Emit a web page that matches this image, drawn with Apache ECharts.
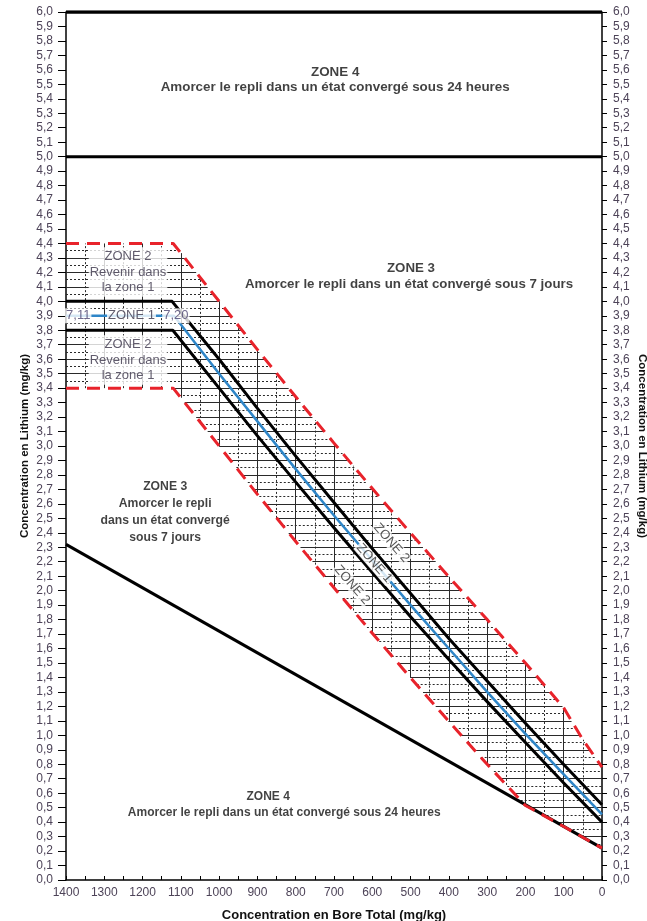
<!DOCTYPE html>
<html><head><meta charset="utf-8">
<script src="https://cdn.jsdelivr.net/npm/echarts@6/dist/echarts.min.js"></script>
<style>html,body{margin:0;padding:0;background:#fff;overflow:hidden}#c{width:647px;height:921px}</style>
</head><body><div id="c"></div>
<script>
// ---- data (Bore mg/kg on x, Lithium mg/kg on y) ----
const blueX        = [1400, 1118, 1000, 900, 800, 700, 600, 500, 400, 300, 200, 100, 0];
const blueY        = [3.9, 3.9, 3.50, 3.17, 2.84, 2.52, 2.21, 1.90, 1.60, 1.30, 1.01, 0.73, 0.454];
const upperBlackX  = [1400, 1123, 1000, 900, 800, 700, 600, 500, 400, 300, 200, 100, 0];
const upperBlackY  = [4.0, 4.0, 3.60, 3.26, 2.93, 2.61, 2.29, 1.98, 1.67, 1.375, 1.084, 0.798, 0.52];
const lowerBlackX  = [1400, 1121, 1000, 900, 800, 700, 600, 500, 400, 300, 200, 100, 0];
const lowerBlackY  = [3.8, 3.8, 3.40, 3.07, 2.75, 2.435, 2.126, 1.82, 1.524, 1.233, 0.95, 0.671, 0.40];
const upperRedX    = [1400, 1120, 1000, 900, 800, 700, 600, 500, 400, 300, 200, 100, 50, 0];
const upperRedY    = [4.4, 4.4, 4.0, 3.666, 3.34, 3.02, 2.706, 2.398, 2.096, 1.80, 1.50, 1.19, 0.97, 0.78];
const lowerRedX    = [1400, 1120, 1000, 900, 800, 700, 600, 500, 400, 300, 200, 100, 0];
const lowerRedY    = [3.4, 3.4, 3.0, 2.666, 2.34, 2.02, 1.706, 1.398, 1.096, 0.80, 0.515, 0.37, 0.22];
const zone4LineX   = [1400, 0];
const zone4LineY   = [2.32, 0.22];
const zone4TopX    = [1400, 0];
const zone4TopY    = [5.0, 5.0];
const frameTopY    = [6.0, 6.0];
const hatchLiStep  = 0.05;   // Li hatch spacing (solid every 0.1)
const hatchBStep   = 50;     // B hatch spacing (solid every 100)
const xTickLabels  = [1400,1300,1200,1100,1000,900,800,700,600,500,400,300,200,100,0];

// ---- helpers ----
const zip = (xs, ys) => xs.map((x, i) => [x, ys[i]]);
function interpY(xs, ys, x) {
  for (let i = 0; i < xs.length - 1; i++) {
    const a = xs[i], b = xs[i + 1];
    if ((x <= a && x >= b)) { if (a === b) return ys[i]; return ys[i] + (x - a) / (b - a) * (ys[i + 1] - ys[i]); }
  }
  return null;
}
function invertX(xs, ys, v) {
  for (let i = 0; i < xs.length - 1; i++) {
    const y0 = ys[i], y1 = ys[i + 1];
    if (y0 !== y1 && v <= y0 && v >= y1) return xs[i] + (v - y0) / (y1 - y0) * (xs[i + 1] - xs[i]);
  }
  return null;
}
const fmt = v => (Math.round(v * 10) / 10).toFixed(1).replace('.', ',');

// hatch segments clipped to the zone-2 band
const hatchSolid = [], hatchDot = [];
const topLi = Math.max(...upperRedY), botLi = Math.min(...lowerRedY), leftFlat = lowerRedY[0];
for (let k = Math.ceil(botLi / hatchLiStep + 1e-6); k * hatchLiStep < topLi - 1e-6; k++) {
  const v = +(k * hatchLiStep).toFixed(2);
  const xl = v > leftFlat + 1e-6 ? 1400 : invertX(lowerRedX, lowerRedY, v);
  const xr = v < upperRedY[upperRedY.length - 1] ? 0 : invertX(upperRedX, upperRedY, v);
  if (xl == null || xr == null || xl <= xr) continue;
  (k % 2 === 0 ? hatchSolid : hatchDot).push({ coords: [[xl, v], [xr, v]] });
}
for (let x = hatchBStep; x < 1400; x += hatchBStep) {
  const y0 = interpY(lowerRedX, lowerRedY, x), y1 = interpY(upperRedX, upperRedY, x);
  if (y0 == null || y1 == null) continue;
  (x % 100 === 0 ? hatchSolid : hatchDot).push({ coords: [[x, y0], [x, y1]] });
}

const FONT = 'Liberation Sans, Arial, sans-serif';
const TICKC = '#4d4358';
const TXT = '#3a3348';

// annotations in data coordinates
const notes = [
  { v: [697, 5.585], t: 'ZONE 4', b: 13.4 },
  { v: [697, 5.48], t: 'Amorcer le repli dans un état convergé sous 24 heures', b: 13.4 },
  { v: [499, 4.23], t: 'ZONE 3', b: 13.3 },
  { v: [504, 4.12], t: 'Amorcer le repli dans un état convergé sous 7 jours', b: 13.3 },
  { v: [1141, 2.716], t: 'ZONE 3', b: 12.2 },
  { v: [1141, 2.603], t: 'Amorcer le repli', b: 12.2 },
  { v: [1141, 2.485], t: 'dans un état convergé', b: 12.2 },
  { v: [1141, 2.37], t: 'sous 7 jours', b: 12.2 },
  { v: [872, 0.574], t: 'ZONE 4', b: 12 },
  { v: [830, 0.463], t: 'Amorcer le repli dans un état convergé sous 24 heures', b: 12 },
  { v: [1238, 4.203], t: 'ZONE 2\nRevenir dans\nla zone 1', box: true },
  { v: [1238, 3.594], t: 'ZONE 2\nRevenir dans\nla zone 1', box: true },
  { v: [1368, 3.9], t: '7,11', small: true, c: '#4b4470' },
  { v: [1229, 3.9], t: 'ZONE 1', small: true, c: TXT },
  { v: [1113, 3.9], t: '7,20', small: true, c: '#4b4470' },
  { v: [550, 2.33], t: 'ZONE 2', rot: true },
  { v: [595, 2.19], t: 'ZONE 1', rot: true },
  { v: [653, 2.04], t: 'ZONE 2', rot: true }
];
const noteData = notes.map(n => {
  const lab = { show: true, position: 'inside', formatter: n.t, fontFamily: FONT, align: 'center', verticalAlign: 'middle' };
  if (n.b) Object.assign(lab, { fontSize: n.b, fontWeight: 'bold', color: '#111' });
  if (n.box) Object.assign(lab, { fontSize: 13, color: TXT, lineHeight: 15.5, backgroundColor: '#fff', padding: [2, 1, 1, 1] });
  if (n.small) Object.assign(lab, { fontSize: 13, color: n.c, backgroundColor: '#fff', padding: [1, 1] });
  if (n.rot) Object.assign(lab, { fontSize: 13, color: '#2a2a2a', rotate: -49, backgroundColor: '#fff', padding: [0, 1] });
  return { value: n.v, label: lab };
});

const lineS = (name, data, color, width, type, z) => ({
  name, type: 'line', data, symbol: 'none', z, animation: false, silent: true,
  lineStyle: { color, width, type, cap: 'butt', join: 'round' }
});

const yAxisBase = (pos) => ({
  type: 'value', min: 0, max: 6, interval: 0.1, position: pos,
  axisLine: { show: true, onZero: false, lineStyle: { color: '#000', width: 1.5 } },
  axisTick: { show: true, length: pos === 'left' ? 8 : 5, lineStyle: { color: '#000', width: 1 } },
  axisLabel: { formatter: fmt, fontSize: 12, color: TICKC, fontFamily: FONT, margin: pos === 'left' ? 13 : 11 },
  splitLine: { show: false },
  name: 'Concentration en Lithium (mg/kg)', nameLocation: 'middle', nameMoveOverlap: false,
  nameGap: pos === 'left' ? 35 : 34, nameRotate: pos === 'left' ? 90 : -90,
  nameTextStyle: { fontSize: 11.5, fontWeight: 'bold', color: '#111', fontFamily: FONT }
});

const option = {
  backgroundColor: '#fff',
  animation: false,
  grid: { left: 66, right: 45, top: 12, bottom: 41, containLabel: false, outerBoundsMode: 'none' },
  xAxis: {
    type: 'value', min: 0, max: 1400, interval: 50, inverse: true,
    axisLine: { show: true, onZero: false, lineStyle: { color: '#000', width: 1.5 } },
    axisTick: { show: true, inside: true, length: 4, lineStyle: { color: '#000' } },
    axisLabel: { formatter: v => xTickLabels.includes(v) ? String(v) : '', fontSize: 12, color: TICKC, fontFamily: FONT, margin: 7 },
    splitLine: { show: false },
    name: 'Concentration en Bore Total (mg/kg)', nameLocation: 'middle', nameGap: 29, nameMoveOverlap: false,
    nameTextStyle: { fontSize: 13, fontWeight: 'bold', color: '#111', fontFamily: FONT }
  },
  yAxis: [yAxisBase('left'), yAxisBase('right')],
  series: [
    { name: 'hatch', type: 'lines', coordinateSystem: 'cartesian2d', polyline: false, silent: true, z: 1,
      lineStyle: { color: '#2a2a2a', width: 1, opacity: 1, type: 'solid' }, data: hatchSolid, animation: false },
    { name: 'hatchDot', type: 'lines', coordinateSystem: 'cartesian2d', polyline: false, silent: true, z: 1,
      lineStyle: { color: '#2a2a2a', width: 1, opacity: 1, type: [2, 2] }, data: hatchDot, animation: false },
    lineS('zone4', zip(zone4LineX, zone4LineY), '#000', 3, 'solid', 3),
    lineS('zone4top', zip(zone4TopX, zone4TopY), '#000', 3, 'solid', 3),
    lineS('frame', zip(zone4TopX, frameTopY), '#000', 3.5, 'solid', 3),
    lineS('upperBlack', zip(upperBlackX, upperBlackY), '#000', 3, 'solid', 4),
    lineS('lowerBlack', zip(lowerBlackX, lowerBlackY), '#000', 3, 'solid', 4),
    lineS('blue', zip(blueX, blueY), '#2f86c8', 2.5, 'solid', 5),
    lineS('upperRed', zip(upperRedX, upperRedY), '#e8232b', 3, [13, 8], 6),
    lineS('lowerRed', zip(lowerRedX, lowerRedY), '#e8232b', 3, [13, 8], 6),
    { name: 'notes', type: 'scatter', symbolSize: 0, z: 10, silent: true, animation: false, data: noteData }
  ]
};
const chart = echarts.init(document.getElementById('c'), null, { width: 647, height: 921 });
chart.setOption(option);
</script></body></html>
